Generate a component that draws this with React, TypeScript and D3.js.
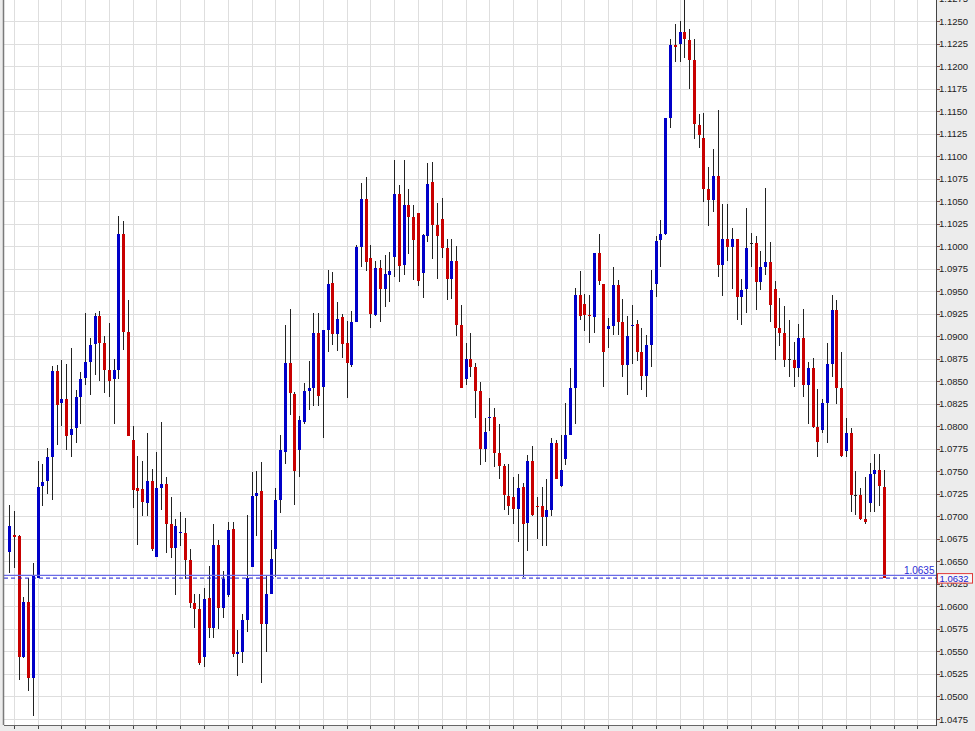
import React from "react";
import * as d3 from "d3";

// Daily OHLC values (oldest first)
const OPEN = [
  1.0660, 1.0679, 1.0678, 1.0544, 1.0605, 1.0520, 1.0631, 1.0734, 1.0739, 1.0766,
  1.0861, 1.0826, 1.0830, 1.0790, 1.0798, 1.0833, 1.0854, 1.0871, 1.0891, 1.0922,
  1.0893, 1.0863, 1.0852, 1.0862, 1.1014, 1.0905, 1.0785, 1.0731, 1.0730, 1.0715,
  1.0739, 1.0655, 1.0732, 1.0736, 1.0691, 1.0665, 1.0682, 1.0682, 1.0651, 1.0604,
  1.0597, 1.0544, 1.0609, 1.0576, 1.0668, 1.0598, 1.0613, 1.0686, 1.0547, 1.0549,
  1.0585, 1.0644, 1.0723, 1.0728, 1.0581, 1.0614, 1.0664, 1.0718, 1.0772, 1.0870,
  1.0836, 1.0774, 1.0805, 1.0839, 1.0842, 1.0904, 1.0844, 1.0907, 1.0959, 1.0903,
  1.0921, 1.0893, 1.0868, 1.0916, 1.0999, 1.1052, 1.0987, 1.0924, 1.0976, 1.0952,
  1.0968, 1.0988, 1.1058, 1.0979, 1.1046, 1.1032, 1.1037, 1.0970, 1.1011, 1.1071,
  1.1024, 1.1030, 1.0998, 1.0964, 1.0984, 1.0913, 1.0852, 1.0875, 1.0866, 1.0839,
  1.0775, 1.0809, 1.0810, 1.0770, 1.0756, 1.0723, 1.0722, 1.0708, 1.0733, 1.0693,
  1.0761, 1.0712, 1.0711, 1.0699, 1.0707, 1.0782, 1.0734, 1.0764, 1.0790, 1.0843,
  1.0946, 1.0936, 1.0924, 1.0921, 1.0992, 1.0958, 1.0908, 1.0911, 1.0957, 1.0916,
  1.0868, 1.0911, 1.0914, 1.0883, 1.0856, 1.0890, 1.0958, 1.1007, 1.1014, 1.1142,
  1.1223, 1.1225, 1.1238, 1.1229, 1.1207, 1.1135, 1.1120, 1.1064, 1.1051, 1.1078,
  1.0979, 1.1008, 1.0999, 1.1008, 1.0944, 1.0952, 1.1003, 1.1003, 1.0960, 1.0977,
  1.0982, 1.0952, 1.0909, 1.0904, 1.0875, 1.0874, 1.0865, 1.0898, 1.0846, 1.0865,
  1.0799, 1.0796, 1.0826, 1.0869, 1.0929, 1.0842, 1.0773, 1.0792, 1.0724, 1.0724,
  1.0697, 1.0715, 1.0747, 1.0752, 1.0733,
];

const HIGH = [
  1.0713, 1.0706, 1.0679, 1.0610, 1.0632, 1.0648, 1.0761, 1.0758, 1.0776, 1.0867,
  1.0868, 1.0874, 1.0869, 1.0887, 1.0840, 1.0860, 1.0926, 1.0898, 1.0926, 1.0928,
  1.0900, 1.0915, 1.0875, 1.1034, 1.1028, 1.0940, 1.0800, 1.0767, 1.0761, 1.0792,
  1.0753, 1.0772, 1.0805, 1.0744, 1.0721, 1.0697, 1.0705, 1.0698, 1.0664, 1.0614,
  1.0614, 1.0620, 1.0645, 1.0691, 1.0674, 1.0639, 1.0694, 1.0694, 1.0574, 1.0592,
  1.0702, 1.0749, 1.0750, 1.0760, 1.0635, 1.0685, 1.0731, 1.0790, 1.0913, 1.0930,
  1.0838, 1.0811, 1.0848, 1.0872, 1.0926, 1.0926, 1.0907, 1.0974, 1.0971, 1.0938,
  1.0925, 1.0917, 1.0928, 1.1001, 1.1070, 1.1077, 1.1001, 1.0983, 1.0985, 1.0990,
  1.0994, 1.1096, 1.1068, 1.1096, 1.1064, 1.1046, 1.1037, 1.1014, 1.1092, 1.1093,
  1.1048, 1.1054, 1.1008, 1.1008, 1.1000, 1.0935, 1.0892, 1.0904, 1.0870, 1.0849,
  1.0809, 1.0831, 1.0820, 1.0802, 1.0758, 1.0758, 1.0744, 1.0747, 1.0737, 1.0768,
  1.0778, 1.0722, 1.0733, 1.0741, 1.0787, 1.0785, 1.0790, 1.0826, 1.0865, 1.0953,
  1.0972, 1.0947, 1.0946, 1.0992, 1.1014, 1.0958, 1.0920, 1.0977, 1.0962, 1.0941,
  1.0922, 1.0935, 1.0918, 1.0909, 1.0901, 1.0974, 1.1011, 1.1029, 1.1142, 1.1230,
  1.1247, 1.1250, 1.1273, 1.1241, 1.1230, 1.1147, 1.1148, 1.1088, 1.1108, 1.1151,
  1.1047, 1.1047, 1.1020, 1.1008, 1.0963, 1.1042, 1.1015, 1.1011, 1.0995, 1.1065,
  1.1005, 1.0961, 1.0942, 1.0934, 1.0918, 1.0894, 1.0914, 1.0930, 1.0871, 1.0876,
  1.0841, 1.0830, 1.0892, 1.0946, 1.0940, 1.0883, 1.0809, 1.0798, 1.0750, 1.0732,
  1.0744, 1.0759, 1.0769, 1.0769, 1.0751,
];

const LOW = [
  1.0637, 1.0643, 1.0518, 1.0543, 1.0506, 1.0478, 1.0631, 1.0712, 1.0725, 1.0718,
  1.0779, 1.0800, 1.0774, 1.0766, 1.0781, 1.0802, 1.0846, 1.0835, 1.0857, 1.0850,
  1.0837, 1.0832, 1.0802, 1.0852, 1.0885, 1.0789, 1.0709, 1.0668, 1.0700, 1.0700,
  1.0662, 1.0655, 1.0707, 1.0659, 1.0654, 1.0613, 1.0667, 1.0630, 1.0598, 1.0576,
  1.0535, 1.0533, 1.0565, 1.0565, 1.0575, 1.0587, 1.0611, 1.0544, 1.0523, 1.0537,
  1.0572, 1.0644, 1.0678, 1.0515, 1.0549, 1.0614, 1.0633, 1.0704, 1.0758, 1.0813,
  1.0713, 1.0744, 1.0803, 1.0818, 1.0823, 1.0822, 1.0787, 1.0883, 1.0890, 1.0884,
  1.0876, 1.0831, 1.0866, 1.0916, 1.0977, 1.0972, 1.0909, 1.0922, 1.0916, 1.0933,
  1.0938, 1.0966, 1.0960, 1.0968, 1.0991, 1.0962, 1.0956, 1.0942, 1.1005, 1.0986,
  1.0963, 1.0987, 1.0940, 1.0941, 1.0900, 1.0842, 1.0846, 1.0855, 1.0809, 1.0757,
  1.0760, 1.0795, 1.0755, 1.0741, 1.0707, 1.0702, 1.0692, 1.0671, 1.0633, 1.0661,
  1.0700, 1.0675, 1.0667, 1.0667, 1.0700, 1.0741, 1.0733, 1.0757, 1.0790, 1.0803,
  1.0918, 1.0906, 1.0892, 1.0904, 1.0957, 1.0844, 1.0887, 1.0901, 1.0901, 1.0855,
  1.0835, 1.0869, 1.0872, 1.0840, 1.0832, 1.0866, 1.0943, 1.0977, 1.1012, 1.1131,
  1.1205, 1.1205, 1.1209, 1.1175, 1.1119, 1.1109, 1.1049, 1.1022, 1.1038, 1.0966,
  1.0945, 1.0983, 1.0952, 1.0918, 1.0913, 1.0926, 1.0977, 1.0929, 1.0951, 1.0968,
  1.0916, 1.0874, 1.0889, 1.0866, 1.0855, 1.0844, 1.0855, 1.0833, 1.0802, 1.0798,
  1.0766, 1.0792, 1.0781, 1.0855, 1.0825, 1.0766, 1.0766, 1.0705, 1.0702, 1.0696,
  1.0691, 1.0705, 1.0705, 1.0711, 1.0632,
];

const CLOSE = [
  1.0689, 1.0677, 1.0544, 1.0605, 1.0520, 1.0635, 1.0733, 1.0738, 1.0766, 1.0861,
  1.0824, 1.0830, 1.0789, 1.0797, 1.0833, 1.0852, 1.0871, 1.0890, 1.0923, 1.0893,
  1.0863, 1.0850, 1.0862, 1.1014, 1.0905, 1.0789, 1.0729, 1.0728, 1.0716, 1.0739,
  1.0664, 1.0732, 1.0736, 1.0691, 1.0665, 1.0689, 1.0683, 1.0652, 1.0604, 1.0597,
  1.0537, 1.0608, 1.0576, 1.0668, 1.0598, 1.0630, 1.0685, 1.0547, 1.0549, 1.0585,
  1.0631, 1.0723, 1.0726, 1.0581, 1.0614, 1.0653, 1.0718, 1.0774, 1.0870, 1.0837,
  1.0750, 1.0807, 1.0839, 1.0843, 1.0904, 1.0834, 1.0907, 1.0958, 1.0903, 1.0919,
  1.0891, 1.0870, 1.0916, 1.0999, 1.1052, 1.0982, 1.0925, 1.0976, 1.0952, 1.0969,
  1.0972, 1.1058, 1.0978, 1.1046, 1.1032, 1.1007, 1.0961, 1.1012, 1.1069, 1.1024,
  1.1011, 1.0998, 1.0964, 1.0984, 1.0913, 1.0843, 1.0875, 1.0866, 1.0839, 1.0775,
  1.0794, 1.0810, 1.0770, 1.0756, 1.0724, 1.0711, 1.0708, 1.0732, 1.0692, 1.0761,
  1.0702, 1.0711, 1.0699, 1.0707, 1.0782, 1.0742, 1.0752, 1.0790, 1.0843, 1.0946,
  1.0922, 1.0924, 1.0922, 1.0992, 1.0961, 1.0883, 1.0911, 1.0957, 1.0916, 1.0868,
  1.0900, 1.0913, 1.0883, 1.0856, 1.0890, 1.0951, 1.1006, 1.1014, 1.1142, 1.1223,
  1.1221, 1.1238, 1.1230, 1.1207, 1.1136, 1.1123, 1.1064, 1.1051, 1.1078, 1.0979,
  1.1008, 1.0999, 1.1008, 1.0944, 1.0951, 1.0998, 1.1003, 1.0960, 1.0977, 1.0982,
  1.0935, 1.0909, 1.0904, 1.0874, 1.0875, 1.0865, 1.0898, 1.0846, 1.0865, 1.0799,
  1.0783, 1.0826, 1.0869, 1.0929, 1.0842, 1.0767, 1.0792, 1.0724, 1.0724, 1.0697,
  1.0694, 1.0747, 1.0752, 1.0734, 1.0632,
];

const Y_TICKS = [
  "1.0475", "1.0500", "1.0525", "1.0550", "1.0575", "1.0600", "1.0625", "1.0650",
  "1.0675", "1.0700", "1.0725", "1.0750", "1.0775", "1.0800", "1.0825", "1.0850",
  "1.0875", "1.0900", "1.0925", "1.0950", "1.0975", "1.1000", "1.1025", "1.1050",
  "1.1075", "1.1100", "1.1125", "1.1150", "1.1175", "1.1200", "1.1225", "1.1250",
  "1.1275",
];

const LEVEL_LINE = 1.0635;
const LAST_PRICE = 1.0632;

const W = 975;
const H = 731;
const PLOT_LEFT = 4;
const PLOT_RIGHT = 936;
const PLOT_BOTTOM = 725;

const BLUE = "#0000c8";
const RED = "#c80000";
const WICK = "#222";
const FONT = "'Liberation Sans', Arial, sans-serif";

export default function App() {
  const n = OPEN.length;
  const x = d3.scaleLinear().domain([0, n - 1]).range([9, 884]);
  const y = d3.scaleLinear().domain([1.0475, 1.125]).range([719, 21]);

  const gridIdx = d3.range(1, 220, 5).filter((i) => x(i) < PLOT_RIGHT - 3);

  const candles = d3.range(n).map((i) => {
    const o = OPEN[i], h = HIGH[i], l = LOW[i], c = CLOSE[i];
    const cx = Math.round(x(i));
    const top = Math.round(y(Math.max(o, c)));
    const bot = Math.round(y(Math.min(o, c)));
    const color = c > o ? BLUE : c < o ? RED : WICK;
    return (
      <g key={i}>
        <line
          x1={cx + 0.5}
          x2={cx + 0.5}
          y1={Math.round(y(h))}
          y2={Math.round(y(l))}
          stroke={WICK}
          strokeWidth={1}
        />
        <rect x={cx - 1} y={top} width={3} height={Math.max(1, bot - top)} fill={color} />
      </g>
    );
  });

  const levelY = y(LEVEL_LINE);
  const lastY = y(LAST_PRICE);

  return (
    <svg
      width={W}
      height={H}
      style={{ position: "absolute", left: 0, top: 0, display: "block" }}
      fontFamily={FONT}
    >
      <rect x={0} y={0} width={W} height={H} fill="#ececec" />
      <rect x={PLOT_LEFT} y={0} width={PLOT_RIGHT - PLOT_LEFT} height={PLOT_BOTTOM} fill="#ffffff" />

      {/* horizontal grid */}
      {Y_TICKS.map((t) => (
        <line
          key={"hg" + t}
          x1={PLOT_LEFT}
          x2={PLOT_RIGHT}
          y1={Math.round(y(+t)) + 0.5}
          y2={Math.round(y(+t)) + 0.5}
          stroke="#dedede"
          strokeWidth={1}
        />
      ))}
      {/* vertical grid */}
      {gridIdx.map((i) => (
        <line
          key={"vg" + i}
          x1={Math.round(x(i)) + 0.5}
          x2={Math.round(x(i)) + 0.5}
          y1={0}
          y2={PLOT_BOTTOM}
          stroke="#dedede"
          strokeWidth={1}
        />
      ))}

      {candles}

      {/* level line and last price line */}
      <line x1={PLOT_LEFT} x2={PLOT_RIGHT} y1={levelY + 0.5} y2={levelY + 0.5} stroke="#6a6ae6" strokeWidth={1.4} />
      <line
        x1={PLOT_LEFT}
        x2={PLOT_RIGHT}
        y1={lastY + 0.5}
        y2={lastY + 0.5}
        stroke="#1a1ad0"
        strokeWidth={1}
        strokeDasharray="4 3"
      />
      <text x={934.5} y={levelY - 1} textAnchor="end" fontSize={10} fill="#2b2bd6">
        {LEVEL_LINE.toFixed(4)}
      </text>

      {/* frame */}
      <line x1={PLOT_LEFT - 0.5} x2={PLOT_LEFT - 0.5} y1={0} y2={PLOT_BOTTOM} stroke="#7a7a7a" strokeWidth={1.5} />
      <line x1={PLOT_LEFT} x2={PLOT_RIGHT} y1={PLOT_BOTTOM + 0.5} y2={PLOT_BOTTOM + 0.5} stroke="#666" strokeWidth={1} />
      <line x1={PLOT_RIGHT + 0.5} x2={PLOT_RIGHT + 0.5} y1={0} y2={PLOT_BOTTOM + 1} stroke="#444" strokeWidth={1} />

      {/* bottom ticks */}
      {gridIdx.map((i) => (
        <line
          key={"bt" + i}
          x1={Math.round(x(i)) + 0.5}
          x2={Math.round(x(i)) + 0.5}
          y1={PLOT_BOTTOM + 1}
          y2={PLOT_BOTTOM + 4}
          stroke="#444"
          strokeWidth={1}
        />
      ))}

      {/* right axis */}
      {Y_TICKS.map((t) => (
        <g key={"yt" + t}>
          <line
            x1={PLOT_RIGHT + 1}
            x2={PLOT_RIGHT + 4}
            y1={Math.round(y(+t)) + 0.5}
            y2={Math.round(y(+t)) + 0.5}
            stroke="#7a4a4a"
            strokeWidth={1}
          />
          <text x={939} y={y(+t) + 3.5} fontSize={9.5} fill="#222">
            {t}
          </text>
        </g>
      ))}

      {/* last price box */}
      <rect x={937.5} y={lastY - 4} width={35} height={9.5} fill="#f8f8f8" stroke="#e03a3a" strokeWidth={1} />
      <text x={939.5} y={lastY + 4} fontSize={9.5} fill="#2020d0">
        {LAST_PRICE.toFixed(4)}
      </text>
    </svg>
  );
}
